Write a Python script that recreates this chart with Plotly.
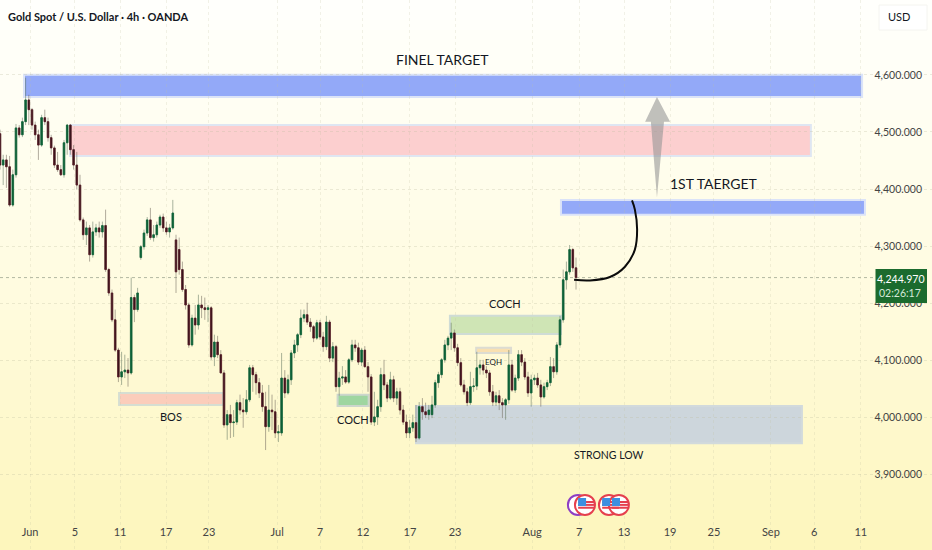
import plotly.graph_objects as go

# bars
opens = [4497,4442,4451,4439,4372,4425,4507,4495,4518,4556,4539,4512,4495,4477,4525,4518,4490,4472,4442,4434,
         4425,4481,4512,4469,4442,4407,4346,4320,4332,4285,4325,4332,4325,4336,4259,4218,4171,4118,4071,4080,
         4083,4078,4210,4189,4280,4299,4323,4346,4315,4320,4337,4351,4332,4325,4332,4311,4294,4259,4224,4197,
         4127,4174,4162,4197,4192,4189,4192,4106,4132,4110,4078,3987,4005,3991,3992,4026,4013,4010,4031,4087,
         4075,4061,4043,4019,3984,4013,4010,3973,3973,4069,4043,4066,4113,4127,4145,4174,4180,4167,4159,4139,
         4166,4141,4124,4167,4104,4124,4054,4069,4071,4062,4101,4127,4122,4097,4118,4089,4071,3992,4001,4019,
         4075,4057,4034,4066,4034,4045,4013,3992,3973,3982,3991,3964,4019,4010,4005,4005,4022,4061,4075,4101,
         4127,4139,4148,4122,4096,4057,4045,4026,4054,4055,4087,4092,4083,4078,4045,4027,4038,4026,4022,4031,
         4092,4048,4069,4110,4097,4071,4043,4066,4069,4057,4036,4054,4061,4089,4080,4127,4171,4241,4255,4294,
         4262]
highs = [4504,4460,4460,4458,4434,4514,4512,4525,4595,4565,4542,4518,4504,4530,4539,4525,4495,4476,4465,4442,
         4486,4514,4514,4477,4465,4425,4350,4343,4337,4343,4339,4343,4343,4364,4262,4224,4189,4122,4115,4110,
         4104,4245,4215,4227,4302,4329,4351,4367,4337,4343,4355,4357,4343,4339,4381,4320,4315,4273,4232,4201,
         4180,4197,4215,4213,4210,4197,4195,4145,4143,4118,4083,4013,4022,4013,4031,4040,4034,4048,4092,4092,
         4080,4069,4057,4045,4057,4040,4031,3987,4113,4083,4075,4118,4136,4148,4189,4189,4201,4174,4162,4171,
         4171,4150,4178,4171,4132,4127,4080,4090,4083,4104,4136,4136,4131,4122,4125,4097,4076,4045,4031,4087,
         4101,4062,4080,4073,4052,4052,4022,4005,3996,4005,4022,4027,4034,4026,4022,4038,4066,4080,4104,4136,
         4143,4166,4154,4129,4104,4066,4052,4080,4069,4115,4101,4101,4090,4083,4057,4045,4048,4034,4034,4118,
         4101,4075,4118,4118,4104,4080,4075,4075,4078,4066,4061,4066,4106,4104,4132,4178,4259,4273,4302,4297,
         4280]
lows = [4434,4407,4402,4369,4369,4420,4490,4491,4512,4512,4504,4486,4451,4474,4512,4483,4460,4437,4430,4423,
        4420,4460,4460,4434,4399,4343,4311,4302,4273,4280,4318,4315,4315,4255,4213,4167,4115,4062,4057,4069,
        4054,4075,4167,4185,4276,4294,4318,4311,4308,4315,4332,4325,4320,4315,4329,4218,4250,4220,4189,4122,
        4124,4145,4154,4174,4171,4167,4101,4090,4104,4078,3982,3961,3964,3966,3987,4005,3982,4005,4027,4045,
        4040,4034,4010,3943,3975,3978,3964,3957,3968,4034,4040,4057,4104,4115,4139,4167,4162,4150,4132,4136,
        4136,4115,4118,4097,4097,4045,4038,4057,4059,4059,4097,4115,4092,4090,4087,4045,3987,3985,3987,4010,
        4048,4027,4031,4027,4022,4005,3987,3964,3964,3975,3957,3961,3996,3999,3996,3999,4017,4052,4069,4096,
        4118,4118,4115,4090,4054,4040,4020,4022,4045,4048,4075,4075,4069,4038,4020,4020,4013,3999,3996,4024,
        4045,4043,4064,4090,4066,4036,4019,4057,4052,4019,4033,4048,4055,4069,4075,4122,4166,4224,4250,4255,
        4224]
closes = [4442,4451,4439,4372,4425,4507,4495,4518,4556,4539,4512,4495,4477,4525,4518,4490,4472,4442,4434,4425,
          4481,4512,4469,4442,4407,4346,4320,4332,4285,4325,4332,4325,4336,4259,4218,4171,4118,4071,4080,4083,
          4078,4210,4189,4218,4299,4323,4346,4315,4320,4337,4351,4332,4325,4332,4358,4255,4259,4224,4197,4127,
          4174,4162,4197,4192,4189,4192,4106,4132,4110,4078,3987,4005,3991,3992,4026,4013,4010,4031,4087,4075,
          4061,4043,4019,3984,4013,4010,3973,3975,4069,4043,4066,4113,4127,4145,4174,4180,4167,4159,4139,4166,
          4141,4124,4167,4104,4124,4054,4069,4071,4062,4101,4127,4122,4097,4118,4089,4071,3992,4001,4019,4075,
          4057,4034,4066,4034,4045,4013,3992,3973,3982,3991,3964,4019,4010,4005,4013,4022,4061,4075,4101,4127,
          4139,4148,4122,4096,4057,4045,4026,4054,4055,4087,4092,4083,4078,4045,4027,4038,4026,4022,4031,4092,
          4048,4069,4110,4097,4071,4043,4066,4069,4057,4036,4054,4061,4089,4080,4127,4171,4241,4255,4294,4262,
          4244.97]
bars = list(range(len(closes)))

tick_bars = [9.4,23.4,37.5,51.9,65.3,86.6,100,113.4,128.1,142.2,166.3,181,195,209.4,223.1,240.9,254.4,269]
tick_labels = ["Jun","5","11","17","23","Jul","7","12","17","23","Aug","7","13","19","25","Sep","6","11"]
price_ticks = [3900,4000,4100,4200,4300,4400,4500,4600]
price_labels = ["3,900.000","4,000.000","4,100.000","4,200.000","4,300.000","4,400.000","4,500.000","4,600.000"]

# drawn zones: left bar, right bar, low, high, fill, border
zone_x0 = [7.5,21.9,175.3,140.6,130,37.2,105.5,148.8]
zone_x1 = [269.4,253.4,270.3,175.3,250.6,69.7,115.2,159.7]
zone_lo = [4561,4458,4355,4146,3955,4022,4020,4113]
zone_hi = [4600,4512,4381,4178,4020,4043,4040,4122]
zone_fill = ["#93a9f8","#fccfcf","#93a9f8","#cfe5b5","#cdd6dc","#fbcdbb","#9ed6a0","#f9e0b0"]
zone_line = ["#dbe3f8","#dfe6f2","#dbe3f8","#cfdcd6","#d2dadc","#d6ded2","#ccd6cc","#dcdcd2"]

arrow_x = [205.3,203.4,201.6,205.3,209.4,207.5,205.3]
arrow_y = [4385,4518,4518,4561,4518,4518,4385]
curve_x = [179.4,184.4,190.6,195.3,198.4,199.1,198.4,197.5]
curve_y = [4241,4240,4246,4264,4294,4329,4364,4380]

flag_x = [180.6,182.8,190.3,193.4]
flag_y = [3847,3847,3847,3847]
flag_ring = ["#8e3fc4","#e5404e","#e5404e","#e5404e"]

last_price = 4244.97
bg_stops = [(0.0,(255,255,252)),(0.25,(255,254,240)),(0.55,(255,251,222)),(1.0,(253,246,188))]
FONT = "Lato, Open Sans, sans-serif"
INK = "#131722"
BARS_W = 291.25
Y_RANGE = [3768,4731]


def bg_color(t):
    for (a,ca),(b,cb) in zip(bg_stops,bg_stops[1:]):
        if t <= b:
            k = (t-a)/(b-a)
            return "rgb(%d,%d,%d)" % tuple(round(u+(v-u)*k) for u,v in zip(ca,cb))
    return "rgb(253,246,188)"


fig = go.Figure()

# full candles carry the wicks, the second trace only the bodies
fig.add_trace(go.Candlestick(
    x=bars, open=opens, high=highs, low=lows, close=closes, whiskerwidth=0,
    increasing=dict(line=dict(color="rgba(95,115,95,0.6)",width=0.9),fillcolor="rgba(95,115,95,0.6)"),
    decreasing=dict(line=dict(color="rgba(110,100,90,0.6)",width=0.9),fillcolor="rgba(110,100,90,0.6)"),
))
fig.add_trace(go.Candlestick(
    x=bars, open=opens, close=closes, whiskerwidth=0,
    high=[max(o,c) for o,c in zip(opens,closes)],
    low=[min(o,c) for o,c in zip(opens,closes)],
    increasing=dict(line=dict(color="#0f6a3c",width=0.7),fillcolor="#0c5a34"),
    decreasing=dict(line=dict(color="#5e1b28",width=0.7),fillcolor="#2e1218"),
))

fig.add_trace(go.Scatter(x=arrow_x, y=arrow_y, mode="lines", fill="toself",
                         line=dict(width=0), fillcolor="rgba(150,150,150,0.6)"))
fig.add_trace(go.Scatter(x=curve_x, y=curve_y, mode="lines",
                         line=dict(color="#0b0b0b",width=2,shape="spline",smoothing=1)))

# calendar icons: ring, stripes, blue corner
fig.add_trace(go.Scatter(x=flag_x, y=flag_y, mode="markers",
                         marker=dict(size=20,color="white",line=dict(color=flag_ring,width=2))))
for shift in (-5,0,5):
    fig.add_trace(go.Scatter(x=[v+0.5 for v in flag_x[1:]], y=[v+shift for v in flag_y[1:]], mode="markers",
                             marker=dict(size=12,symbol="line-ew",line=dict(color="#e5404e",width=2))))
fig.add_trace(go.Scatter(x=[v-0.9 for v in flag_x[1:]], y=[v+5 for v in flag_y[1:]], mode="markers",
                         marker=dict(size=8,symbol="square",color="#3d8fe0")))

# background gradient, strips are too close in colour to show
shapes = []
for i in range(55):
    shapes.append(dict(type="rect",xref="paper",yref="paper",x0=0,x1=1,y0=1-(i+1)/55,y1=1-i/55,
                       layer="below",line_width=0,fillcolor=bg_color(i/54)))
for x0,x1,lo,hi,fc,lc in zip(zone_x0,zone_x1,zone_lo,zone_hi,zone_fill,zone_line):
    shapes.append(dict(type="rect",x0=x0,x1=x1,y0=lo,y1=hi,layer="below",
                       fillcolor=fc,line=dict(color=lc,width=2)))
shapes.append(dict(type="line",x0=0,x1=273.4,y0=last_price,y1=last_price,layer="below",
                   line=dict(color="rgba(130,140,120,0.6)",width=1,dash="dot")))
# price scale boxes
shapes.append(dict(type="rect",xref="paper",yref="paper",x0=875.5/932,x1=927/932,y0=1-303/550,y1=1-269/550,
                   fillcolor="#1b6b2e",line_width=0,layer="above"))
shapes.append(dict(type="rect",xref="paper",yref="paper",x0=879/932,x1=927/932,y0=1-30/550,y1=1-5/550,
                   fillcolor="rgba(255,255,255,0.9)",line=dict(color="#f4f4f0",width=1),layer="above"))

def note(text,px,py,size,color=INK,anchor="center"):
    return dict(text=text,x=px/932,y=1-py/550,xref="paper",yref="paper",showarrow=False,
                xanchor=anchor,yanchor="middle",font=dict(family=FONT,size=size,color=color))

notes = [
    note("<b>Gold Spot / U.S. Dollar · 4h · OANDA</b>",6,17,11,anchor="left"),
    note("FINEL TARGET",442,59,14),
    note("1ST TAERGET",714,184,14),
    note("COCH",505,303,11),
    note("COCH",353,419,11),
    note("BOS",171,416,11),
    note("EQH",493,362,8),
    note("STRONG LOW",609,455,10.5),
    note("USD",886,17,11,anchor="left"),
    note("4,244.970",901,279,10.5,"#ffffff"),
    note("02:26:17",900,293,10.5,"#d5e8d8"),
]

fig.update_layout(
    width=932, height=550, margin=dict(l=0,r=0,t=0,b=0),
    showlegend=False, paper_bgcolor="#fffdf0", plot_bgcolor="rgba(0,0,0,0)",
    shapes=shapes, annotations=notes,
    font=dict(family=FONT,size=11,color=INK),
)
fig.update_xaxes(range=[0,BARS_W], rangeslider_visible=False, tickmode="array",
                 tickvals=tick_bars, ticktext=tick_labels, ticks="", ticklabelposition="inside",
                 ticklabelstandoff=9, showline=False, zeroline=False,
                 showgrid=True, gridcolor="rgba(190,190,160,0.22)", griddash="dot")
fig.update_yaxes(range=Y_RANGE, side="right", tickmode="array", tickvals=price_ticks,
                 ticktext=price_labels, ticks="", ticklabelposition="inside", ticklabelstandoff=7,
                 tickfont=dict(size=10.5), showline=False, zeroline=False,
                 showgrid=True, gridcolor="rgba(190,190,160,0.3)", griddash="dot")

# the page's default body margin would push the figure off the 932x550 window
fig.write_html("out.html", config=dict(displayModeBar=False),
               post_script="document.body.style.margin='0';")
